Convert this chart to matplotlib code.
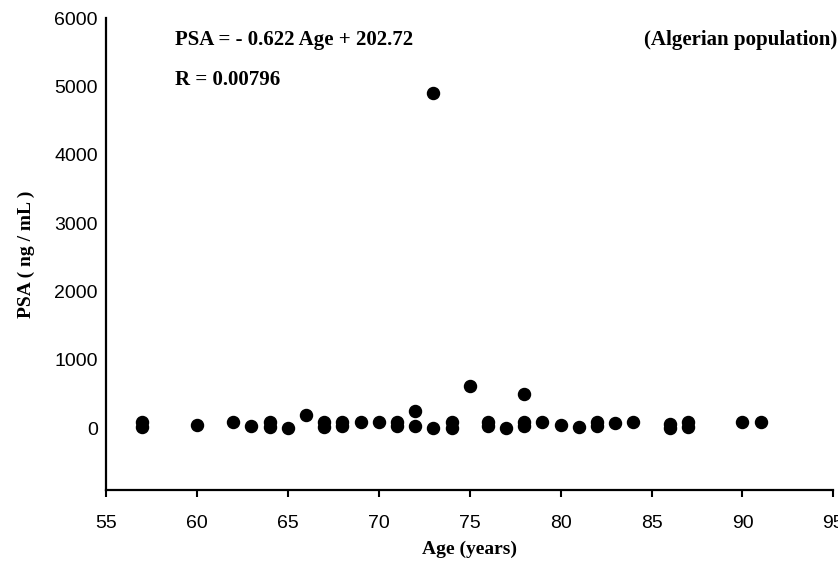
import matplotlib
matplotlib.use("Agg")
import matplotlib.pyplot as plt

# Age (years) and PSA (ng/mL)
age = [57, 57, 60, 62, 63, 64, 64, 65, 66, 67, 67, 68, 68, 69, 70, 71, 71,
       72, 72, 73, 73, 74, 74, 75, 76, 76, 77, 78, 78, 78, 79, 80, 81, 82,
       82, 83, 84, 86, 86, 87, 87, 90, 91]
psa = [100, 20, 50, 100, 30, 100, 15, 10, 200, 100, 20, 100, 30, 100, 100, 100, 40,
       250, 40, 4900, 10, 100, 10, 620, 100, 30, 10, 500, 100, 30, 100, 50, 20, 100,
       30, 80, 100, 70, 10, 100, 20, 100, 100]

x_ticks = [55, 60, 65, 70, 75, 80, 85, 90, 95]
y_ticks = [0, 1000, 2000, 3000, 4000, 5000, 6000]

serif = "Liberation Serif"
sans = "Liberation Sans"

fig = plt.figure(figsize=(8.38, 5.67), dpi=100)
ax = fig.add_axes([0.1265, 0.136, 0.868, 0.832])

ax.scatter(age, psa, s=75, color="black", zorder=3, clip_on=False)

ax.set_xlim(55, 95)
ax.set_ylim(-900, 6000)
ax.set_xticks(x_ticks)
ax.set_yticks(y_ticks)
ax.set_xticklabels([str(t) for t in x_ticks], fontfamily=sans, fontsize=14)
ax.set_yticklabels([str(t) for t in y_ticks], fontfamily=sans, fontsize=14)

for side in ["top", "right"]:
    ax.spines[side].set_visible(False)
for side in ["left", "bottom"]:
    ax.spines[side].set_linewidth(1.6)

ax.tick_params(axis="x", direction="out", length=5, width=1.5, pad=13)
ax.tick_params(axis="y", length=0, pad=6)

ax.set_xlabel("Age (years)", fontfamily=serif, fontweight="bold", fontsize=14, labelpad=6)
ax.set_ylabel("PSA ( ng / mL )", fontfamily=serif, fontweight="bold", fontsize=14, labelpad=14)

# Regression annotations
fig.text(175 / 838, 1 - 40 / 567, "PSA = - 0.622 Age + 202.72", fontfamily=serif,
         fontweight="bold", fontsize=15, va="center", ha="left")
fig.text(175 / 838, 1 - 80 / 567, "R = 0.00796", fontfamily=serif,
         fontweight="bold", fontsize=15, va="center", ha="left")
fig.text(837 / 838, 1 - 40 / 567, "(Algerian population)", fontfamily=serif,
         fontweight="bold", fontsize=15, va="center", ha="right")

fig.savefig("out.png", dpi=100)
